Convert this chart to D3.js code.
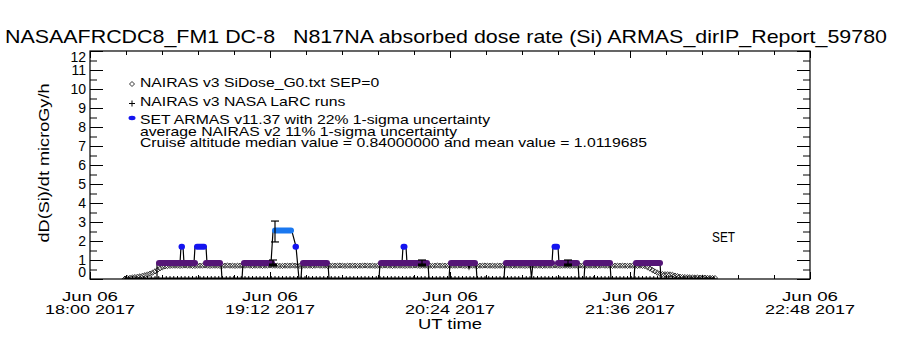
<!DOCTYPE html>
<html>
<head>
<meta charset="utf-8">
<script src="https://cdn.jsdelivr.net/npm/d3@7"></script>
<style>
  body { margin: 0; background: #fff; }
  svg { display: block; font-family: "Liberation Sans", Arial, sans-serif; }
  text { white-space: pre; }
</style>
</head>
<body>
<div id="chart"></div>
<script>
// ---- data (times are minutes after 2017-06-06 18:00 UT) ----
const titleText = "NASAAFRCDC8_FM1 DC-8   N817NA absorbed dose rate (Si) ARMAS_dirIP_Report_59780";
const xTickMinutes = [0, 72, 144, 216, 288];
const xTickDay = ["Jun 06", "Jun 06", "Jun 06", "Jun 06", "Jun 06"];
const xTickTime = ["18:00 2017", "19:12 2017", "20:24 2017", "21:36 2017", "22:48 2017"];
const yTicks = [0, 1, 2, 3, 4, 5, 6, 7, 8, 9, 10, 11, 12];

const legendLines = [
  "NAIRAS v3 SiDose_G0.txt SEP=0",
  "NAIRAS v3 NASA LaRC runs",
  "SET ARMAS v11.37 with 22% 1-sigma uncertainty",
  "average NAIRAS v2 11% 1-sigma uncertainty",
  "Cruise altitude median value = 0.84000000 and mean value = 1.0119685"
];

// NAIRAS v3 SiDose_G0, one sample per minute
const g0Start = 14, g0Step = 1;
const g0Values = [
  0.02,0.04,0.06,0.08,0.10,0.12,0.14,0.17,0.20,0.24,0.28,0.33,0.40,0.48,0.56,0.62,0.66,0.68,0.69,0.70,
  0.70,0.70,0.69,0.70,0.71,0.70,0.70,0.69,0.69,0.70,0.70,0.70,0.71,0.70,0.69,0.70,0.70,0.70,0.69,0.70,
  0.70,0.71,0.70,0.70,0.69,0.70,0.70,0.70,0.70,0.71,0.70,0.69,0.70,0.70,0.70,0.69,0.70,0.70,0.71,0.70,
  0.70,0.70,0.69,0.69,0.70,0.70,0.70,0.71,0.70,0.70,0.69,0.70,0.70,0.70,0.70,0.69,0.70,0.71,0.70,0.70,
  0.70,0.69,0.70,0.70,0.70,0.70,0.71,0.70,0.69,0.70,0.70,0.70,0.70,0.69,0.70,0.70,0.71,0.70,0.70,0.70,
  0.69,0.70,0.70,0.70,0.71,0.70,0.70,0.69,0.70,0.70,0.70,0.70,0.69,0.70,0.70,0.70,0.71,0.70,0.69,0.70,
  0.70,0.70,0.70,0.69,0.70,0.71,0.70,0.70,0.70,0.69,0.70,0.70,0.70,0.70,0.71,0.70,0.69,0.70,0.70,0.70,
  0.70,0.69,0.70,0.70,0.71,0.70,0.70,0.70,0.69,0.70,0.70,0.70,0.70,0.71,0.70,0.69,0.70,0.70,0.70,0.70,
  0.69,0.70,0.70,0.71,0.70,0.70,0.70,0.69,0.70,0.70,0.70,0.70,0.71,0.70,0.69,0.70,0.70,0.70,0.69,0.70,
  0.70,0.70,0.71,0.70,0.69,0.70,0.70,0.70,0.70,0.69,0.70,0.71,0.70,0.70,0.70,0.69,0.70,0.70,0.70,0.70,
  0.70,0.69,0.70,0.70,0.69,0.69,0.70,0.69,0.68,0.62,0.55,0.47,0.40,0.33,0.28,0.26,0.25,0.25,0.24,0.22,
  0.18,0.15,0.12,0.10,0.10,0.09,0.09,0.08,0.08,0.08,0.07,0.07,0.07,0.06,0.06,0.05,0.05
];

// NAIRAS v3 NASA LaRC runs, one sample every 1.5 minutes
const larcStart = 14, larcStep = 1.5;
const larcValues = [
  0,0,0,0,0,0,0,0,0,0,0,0,0,0,0,0,0,0,0,0,
  0,0,0,0,0,0,0,0,0,0,0,0,0,0,0,0,0,0,0,0,
  0,0,0,0,0,0,0,0,0,0,0,0,0,0,0,0,0,0,0,0,
  0,0,0,0,0,0,0,0,0,0,0,0,0,0,0,0,0,0,0,0,
  0,0,0,0,0,0,0,0,0,0,0,0,0,0,0,0,0,0,0,0,
  0,0,0,0,0,0,0,0,0,0,0,0,0,0,0,0,0,0,0,0,
  0,0,0,0,0,0,0,0,0,0,0,0,0,0,0,0,0,0,0,0,
  0,0,0,0,0,0,0,0,0,0,0,0,0,0,0,0,0,0
];

// SET ARMAS record (connecting line)
const armasTime = [24, 26.8, 26.8, 36, 36.4, 37.2, 37.6, 41.6, 42, 46.4,
  46.8, 52.4, 52.8, 60.8, 61.2, 72.4, 73.2, 80.8, 82.4, 83.6,
  84.4, 84.8, 95.2, 95.6, 115.6, 116, 124.8, 125.2, 126.4, 126.8,
  135.2, 135.6, 143.6, 144, 151, 151.6, 152.2, 154.4, 154.8, 165.6,
  166, 176, 176.6, 177.2, 184.8, 185.2, 187.2, 187.6, 195.2, 195.6,
  197.6, 198, 208, 208.4, 217.6, 218, 228, 228.4, 244];
const armasValue = [0, 0, 0.84, 0.84, 1.7, 1.7, 0.84, 0.84, 1.7, 1.7,
  0.84, 0.84, 0, 0, 0.84, 0.84, 2.5, 2.5, 1.7, 0,
  0, 0.84, 0.84, 0, 0, 0.84, 0.84, 1.7, 1.7, 0.84,
  0.84, 0, 0, 0.84, 0.84, 0.55, 0.84, 0.84, 0, 0,
  0.84, 0.84, 0.05, 0.84, 0.84, 1.7, 1.7, 0.84, 0.84, 0,
  0, 0.84, 0.84, 0, 0, 0.84, 0.84, 0, 0];

// ARMAS cruise runs at the median value
const cruiseStart = [26.8, 45.6, 60.8, 84.4, 115.6, 143.6, 165.6, 186.4, 197.6, 217.6];
const cruiseEnd   = [42.8, 52.8, 73.6, 95.6, 135.6, 154.8, 185.6, 195.6, 208.8, 228.8];
const cruiseValue = 0.84;

// ARMAS readings above the cruise level
const highStart = [35.4, 41.6, 72.8, 81.0, 124.2, 184.6];
const highEnd   = [38.0, 46.8, 81.6, 83.6, 127.0, 188.0];
const highValue = [1.7, 1.7, 2.55, 1.7, 1.7, 1.7];

// error bars
const armasErrTime = [74], armasErrLo = [1.95], armasErrHi = [3.05];
const v2ErrTime = [73.2, 132.8, 191.2], v2ErrLo = [0.66, 0.66, 0.66], v2ErrHi = [1.0, 1.0, 1.0];

// ---- drawing ----
const W = 900, H = 350;
const box = { left: 90, right: 810, top: 51, bottom: 279 };
const t0 = Date.UTC(2017, 5, 6, 18, 0);
const toDate = m => new Date(t0 + m * 60000);

const svg = d3.select("#chart").append("svg").attr("width", W).attr("height", H);
svg.append("rect").attr("width", W).attr("height", H).attr("fill", "#fff");

const x = d3.scaleUtc().domain([toDate(0), toDate(288)]).range([box.left, box.right]);
const y = d3.scaleLinear().domain([0, 12]).range([box.bottom, box.top]);

svg.append("clipPath").attr("id", "clip")
  .append("rect").attr("x", box.left).attr("y", box.top)
  .attr("width", box.right - box.left).attr("height", box.bottom - box.top);

const data = svg.append("g").attr("clip-path", "url(#clip)");

// G0 diamonds
const g0 = g0Values.map((v, i) => ({ t: g0Start + i * g0Step, v }));
data.append("g").selectAll("path").data(g0).join("path")
  .attr("d", d => {
    const cx = x(toDate(d.t)), cy = y(d.v), r = 2.6;
    return `M${cx},${cy - r}L${cx + r},${cy}L${cx},${cy + r}L${cx - r},${cy}Z`;
  })
  .attr("fill", "none").attr("stroke", "#333").attr("stroke-width", 1);

// LaRC line with plus markers
const larc = larcValues.map((v, i) => ({ t: larcStart + i * larcStep, v }));
data.append("path").datum(larc)
  .attr("d", d3.line().x(d => x(toDate(d.t))).y(d => y(d.v)))
  .attr("fill", "none").attr("stroke", "#000").attr("stroke-width", 3);
data.append("g").selectAll("path").data(larc).join("path")
  .attr("d", d => {
    const cx = x(toDate(d.t)), cy = y(d.v), r = 3;
    return `M${cx - r},${cy}H${cx + r}M${cx},${cy - r}V${cy + r}`;
  })
  .attr("stroke", "#000").attr("stroke-width", 1);

// ARMAS connecting line
const armas = armasTime.map((t, i) => ({ t, v: armasValue[i] }));
data.append("path").datum(armas)
  .attr("d", d3.line().x(d => x(toDate(d.t))).y(d => y(d.v)))
  .attr("fill", "none").attr("stroke", "#000").attr("stroke-width", 1.2);

// cruise runs (purple)
data.append("g").selectAll("rect").data(cruiseStart).join("rect")
  .attr("x", (d, i) => x(toDate(d)) - 1)
  .attr("width", (d, i) => x(toDate(cruiseEnd[i])) - x(toDate(d)) + 2)
  .attr("y", y(cruiseValue) - 3).attr("height", 6).attr("rx", 3)
  .attr("fill", "#551577");

// NAIRAS v2 error bars
const v2 = data.append("g").attr("stroke", "#000");
v2ErrTime.forEach((t, i) => {
  const cx = x(toDate(t)), lo = y(v2ErrLo[i]), hi = y(v2ErrHi[i]);
  v2.append("line").attr("x1", cx).attr("x2", cx).attr("y1", lo).attr("y2", hi).attr("stroke-width", 1.2);
  v2.append("line").attr("x1", cx - 4).attr("x2", cx + 4).attr("y1", hi).attr("y2", hi).attr("stroke-width", 1.2);
  v2.append("line").attr("x1", cx - 4).attr("x2", cx + 4).attr("y1", lo - 1.5).attr("y2", lo - 1.5).attr("stroke-width", 3);
});

// high readings (blue)
data.append("g").selectAll("rect").data(highStart).join("rect")
  .attr("x", (d, i) => x(toDate(d)))
  .attr("width", (d, i) => x(toDate(highEnd[i])) - x(toDate(d)))
  .attr("y", (d, i) => y(highValue[i]) - 3).attr("height", 6).attr("rx", 3)
  .attr("fill", (d, i) => highValue[i] > 2 ? "#1a78f0" : "#1414f0");

// ARMAS error bars
const ae = data.append("g").attr("stroke", "#000").attr("stroke-width", 1.2);
armasErrTime.forEach((t, i) => {
  const cx = x(toDate(t)), lo = y(armasErrLo[i]), hi = y(armasErrHi[i]);
  ae.append("line").attr("x1", cx).attr("x2", cx).attr("y1", lo).attr("y2", hi);
  ae.append("line").attr("x1", cx - 4).attr("x2", cx + 4).attr("y1", lo).attr("y2", lo);
  ae.append("line").attr("x1", cx - 4).attr("x2", cx + 4).attr("y1", hi).attr("y2", hi);
});

// ---- axes ----
const strip = g => g.select(".domain").remove();
const xMajor = xTickMinutes.map(toDate);
const xMinor = d3.range(0, 288.01, 14.4).map(toDate);
const yMinor = d3.range(0.5, 12, 1);

svg.append("g").attr("transform", `translate(0,${box.bottom})`)
  .call(d3.axisBottom(x).tickValues(xMinor).tickSize(-4).tickFormat("")).call(strip);
svg.append("g").attr("transform", `translate(0,${box.bottom})`)
  .call(d3.axisBottom(x).tickValues(xMajor).tickSize(-7).tickFormat("")).call(strip);
svg.append("g").attr("transform", `translate(0,${box.top})`)
  .call(d3.axisTop(x).tickValues(xMinor).tickSize(-4).tickFormat("")).call(strip);
svg.append("g").attr("transform", `translate(0,${box.top})`)
  .call(d3.axisTop(x).tickValues(xMajor).tickSize(-7).tickFormat("")).call(strip);

svg.append("g").attr("transform", `translate(${box.left},0)`)
  .call(d3.axisLeft(y).tickValues(yTicks).tickSize(-13).tickFormat("")).call(strip);
svg.append("g").attr("transform", `translate(${box.left},0)`)
  .call(d3.axisLeft(y).tickValues(yMinor).tickSize(-7).tickFormat("")).call(strip);
svg.append("g").attr("transform", `translate(${box.right},0)`)
  .call(d3.axisRight(y).tickValues(yTicks).tickSize(-13).tickFormat("")).call(strip);
svg.append("g").attr("transform", `translate(${box.right},0)`)
  .call(d3.axisRight(y).tickValues(yMinor).tickSize(-7).tickFormat("")).call(strip);

svg.selectAll(".tick line").attr("stroke", "#000").attr("stroke-width", 1);

svg.append("rect")
  .attr("x", box.left).attr("y", box.top)
  .attr("width", box.right - box.left).attr("height", box.bottom - box.top)
  .attr("fill", "none").attr("stroke", "#000").attr("stroke-width", 1.2);

// y tick labels (end labels pulled inside the box like the original)
svg.append("g").selectAll("text").data(yTicks).join("text")
  .attr("x", box.left - 4)
  .attr("y", d => y(d) + 5 + (d === 0 ? -7 : d === 12 ? 6 : 0))
  .attr("text-anchor", "end").attr("font-size", 14)
  .text(d => d);

// x tick labels
const xl = svg.append("g").attr("font-size", 13).attr("text-anchor", "middle");
xMajor.forEach((d, i) => {
  xl.append("text").attr("x", x(d)).attr("y", 301)
    .attr("textLength", 56).attr("lengthAdjust", "spacingAndGlyphs").text(xTickDay[i]);
  xl.append("text").attr("x", x(d)).attr("y", 314)
    .attr("textLength", 90).attr("lengthAdjust", "spacingAndGlyphs").text(xTickTime[i]);
});

svg.append("text").attr("x", 450).attr("y", 329).attr("text-anchor", "middle")
  .attr("font-size", 14).attr("textLength", 64).attr("lengthAdjust", "spacingAndGlyphs")
  .text("UT time");

svg.append("text").attr("transform", "translate(49,163) rotate(-90)")
  .attr("text-anchor", "middle").attr("font-size", 15)
  .attr("textLength", 159).attr("lengthAdjust", "spacingAndGlyphs")
  .text("dD(Si)/dt microGy/h");

svg.append("text").attr("x", 5).attr("y", 43).attr("font-size", 19)
  .attr("textLength", 882).attr("lengthAdjust", "spacingAndGlyphs")
  .text(titleText);

svg.append("text").attr("x", 712).attr("y", 242).attr("font-size", 14)
  .attr("textLength", 23).attr("lengthAdjust", "spacingAndGlyphs").text("SET");

// ---- legend ----
const legendY = [87, 106, 124, 136, 147];
const lg = svg.append("g").attr("font-size", 13);
const texts = lg.selectAll("text").data(legendLines).join("text")
  .attr("x", 140).attr("y", (d, i) => legendY[i]).text(d => d);
const natural = texts.nodes().map(n => n.getComputedTextLength());
const k = 507 / natural[4];
texts.attr("textLength", (d, i) => natural[i] * k).attr("lengthAdjust", "spacingAndGlyphs");

lg.append("path").attr("d", "M132,81.5L134.5,84L132,86.5L129.5,84Z")
  .attr("fill", "none").attr("stroke", "#333").attr("stroke-width", 1);
lg.append("path").attr("d", "M129,103.5H135M132,100.5V106.5").attr("stroke", "#000").attr("stroke-width", 1);
lg.append("ellipse").attr("cx", 132).attr("cy", 118).attr("rx", 3.5).attr("ry", 2.2).attr("fill", "#1414f0");
</script>
</body>
</html>
